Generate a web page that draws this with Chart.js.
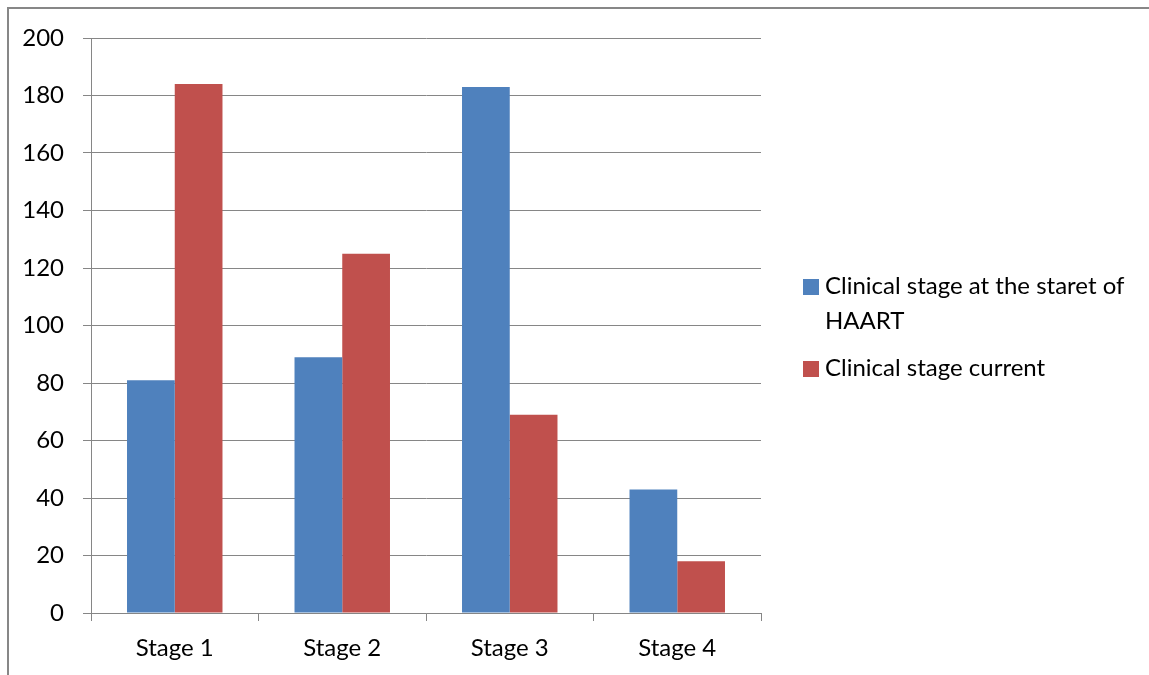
<!DOCTYPE html>
<html>
<head>
<meta charset="utf-8">
<script src="https://cdn.jsdelivr.net/npm/chart.js@4/dist/chart.umd.min.js"></script>
<style>
  html, body { margin: 0; padding: 0; background: #fff; }
  #wrap { position: relative; width: 1149px; height: 675px; overflow: hidden; font-family: Lato, "Open Sans", sans-serif; }
  #frame { position: absolute; left: 7px; top: 7px; width: 1200px; height: 700px; border-top: 2px solid #878787; border-left: 2px solid #878787; box-sizing: border-box; }
  canvas { position: absolute; left: 0; top: 0; }
  #legend { position: absolute; left: 803px; top: 267px; width: 346px; font-size: 24px; color: #000; white-space: nowrap; }
  .item { position: relative; padding-left: 22px; line-height: 35px; margin-bottom: 12px; }
  .sw { position: absolute; left: 0; top: 12px; width: 16px; height: 16px; }
</style>
</head>
<body>
<div id="wrap">
  <div id="frame"></div>
  <canvas id="c" width="1149" height="675"></canvas>
  <div id="legend"></div>
</div>
<script>
const categories = ["Stage 1", "Stage 2", "Stage 3", "Stage 4"];
const seriesNames = ["Clinical stage at the staret of HAART", "Clinical stage current"];
const atStartOfHaart = [81, 89, 183, 43];
const current = [184, 125, 69, 18];
const seriesColors = ["#4F81BD", "#C0504D"];
const yTicks = [0, 20, 40, 60, 80, 100, 120, 140, 160, 180, 200];

const axisGray = "#868686";
const font = { family: "Lato, 'Open Sans', sans-serif", size: 24 };

const chart = new Chart(document.getElementById("c"), {
  type: "bar",
  data: {
    labels: categories,
    datasets: [
      { label: seriesNames[0], data: atStartOfHaart, backgroundColor: seriesColors[0], borderWidth: 0 },
      { label: seriesNames[1], data: current, backgroundColor: seriesColors[1], borderWidth: 0 }
    ]
  },
  options: {
    responsive: false,
    animation: false,
    layout: { padding: { top: 38, right: 388, bottom: 0, left: 0 } },
    datasets: { bar: { categoryPercentage: 0.57, barPercentage: 1.0 } },
    plugins: { legend: { display: false }, tooltip: { enabled: false } },
    scales: {
      x: {
        offset: true,
        grid: { offset: true, drawOnChartArea: false, drawTicks: true, tickLength: 8, color: axisGray, lineWidth: 1 },
        border: { color: axisGray, width: 1 },
        ticks: { color: "#000", font: font, padding: 13 },
        afterFit: s => { s.height = 62; }
      },
      y: {
        min: 0,
        max: 200,
        afterBuildTicks: s => { s.ticks = yTicks.map(v => ({ value: v })); },
        grid: { color: axisGray, lineWidth: 1, tickLength: 8 },
        border: { color: axisGray, width: 1 },
        ticks: { color: "#000", font: font, padding: 19 },
        afterFit: s => { s.width = 91; }
      }
    }
  }
});

// Legend beside the plot, built from the chart's datasets
const legendLines = [["Clinical stage at the staret of", "HAART"], ["Clinical stage current"]];
const legend = document.getElementById("legend");
chart.data.datasets.forEach((ds, i) => {
  const item = document.createElement("div");
  item.className = "item";
  const sw = document.createElement("span");
  sw.className = "sw";
  sw.style.background = ds.backgroundColor;
  item.appendChild(sw);
  legendLines[i].forEach((t, j) => {
    if (j) item.appendChild(document.createElement("br"));
    item.appendChild(document.createTextNode(t));
  });
  legend.appendChild(item);
});
</script>
</body>
</html>
